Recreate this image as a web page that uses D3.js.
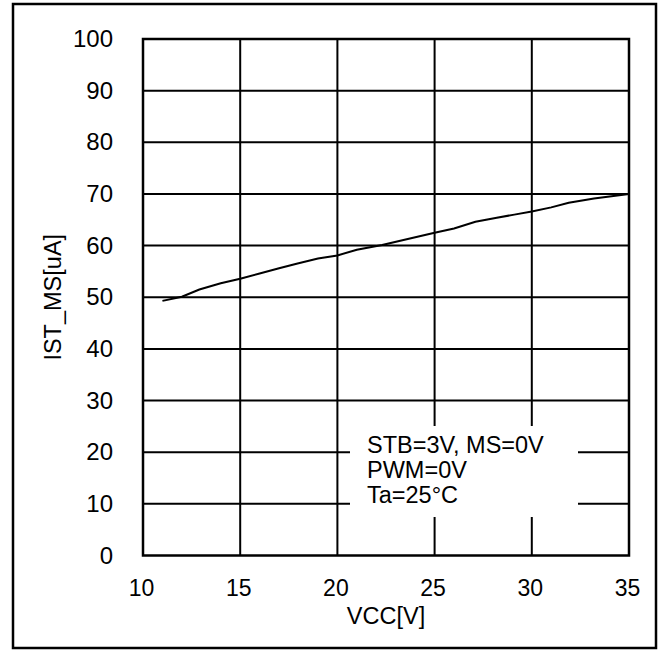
<!DOCTYPE html>
<html>
<head>
<meta charset="utf-8">
<script src="https://cdn.jsdelivr.net/npm/d3@7"></script>
<style>
  body { margin: 0; background: #fff; }
  text { font-family: "Liberation Sans", Arial, sans-serif; fill: #000; }
</style>
</head>
<body>
<div id="chart"></div>
<script>
// Datos
const VCC = [11.0, 12.0, 12.9, 14.0, 15.0, 16.0, 17.0, 17.9, 19.0, 20.0, 21.0, 22.3, 23.4, 25.0, 26.0, 27.1, 28.2, 29.1, 30.0, 31.0, 31.9, 33.2, 35.0];
const IST = [49.3, 50.1, 51.5, 52.7, 53.6, 54.6, 55.6, 56.5, 57.5, 58.1, 59.2, 60.1, 61.1, 62.5, 63.3, 64.6, 65.4, 66.0, 66.6, 67.4, 68.3, 69.1, 70.0];
const X_TICKS = [10, 15, 20, 25, 30, 35];
const Y_TICKS = [0, 10, 20, 30, 40, 50, 60, 70, 80, 90, 100];
const NOTE_LINES = ["STB=3V, MS=0V", "PWM=0V", "Ta=25°C"];

const WIDTH = 665;
const HEIGHT = 650;
const svg = d3.select("#chart").append("svg")
    .attr("width", WIDTH).attr("height", HEIGHT);

// Marco exterior
svg.append("rect")
    .attr("x", 13).attr("y", 4)
    .attr("width", 643).attr("height", 644)
    .attr("fill", "none").attr("stroke", "#000").attr("stroke-width", 2.5);

const PLOT_L = 143, PLOT_R = 629, PLOT_T = 39, PLOT_B = 555.5;
const x = d3.scaleLinear().domain([10, 35]).range([PLOT_L, PLOT_R]);
const y = d3.scaleLinear().domain([0, 100]).range([PLOT_B, PLOT_T]);

// Rejilla
const grid = svg.append("g");
grid.selectAll(".gx").data(X_TICKS.slice(1, -1)).enter().append("line")
    .attr("x1", d => x(d)).attr("x2", d => x(d))
    .attr("y1", PLOT_T).attr("y2", PLOT_B)
    .attr("stroke", "#000").attr("stroke-width", 2);
grid.selectAll(".gy").data(Y_TICKS.slice(1, -1)).enter().append("line")
    .attr("x1", PLOT_L).attr("x2", PLOT_R)
    .attr("y1", d => y(d)).attr("y2", d => y(d))
    .attr("stroke", "#000").attr("stroke-width", 2);

// Caja blanca de la nota
svg.append("rect")
    .attr("x", 350).attr("y", 426)
    .attr("width", 228).attr("height", 91)
    .attr("fill", "#fff");

// Curva
const line = d3.line().x(d => x(d[0])).y(d => y(d[1]));
svg.append("path")
    .datum(VCC.map((v, i) => [v, IST[i]]))
    .attr("d", line)
    .attr("fill", "none").attr("stroke", "#000").attr("stroke-width", 2);

// Borde del área de trazado
svg.append("rect")
    .attr("x", PLOT_L).attr("y", PLOT_T)
    .attr("width", PLOT_R - PLOT_L).attr("height", PLOT_B - PLOT_T)
    .attr("fill", "none").attr("stroke", "#000").attr("stroke-width", 2.5);

// Ejes (solo etiquetas)
const xAxis = svg.append("g")
    .attr("transform", `translate(-2,${PLOT_B + 32})`)
    .call(d3.axisBottom(x).tickValues(X_TICKS).tickSize(0).tickPadding(0));
xAxis.select(".domain").remove();
xAxis.selectAll("text").attr("font-size", 23).attr("dy", "0.36em")
    .style("font-family", "Liberation Sans, Arial, sans-serif");

const yAxis = svg.append("g")
    .attr("transform", `translate(${PLOT_L - 30},0)`)
    .call(d3.axisLeft(y).tickValues(Y_TICKS).tickSize(0).tickPadding(0));
yAxis.select(".domain").remove();
yAxis.selectAll("text").attr("font-size", 24)
    .style("font-family", "Liberation Sans, Arial, sans-serif");

// Títulos de los ejes
svg.append("text")
    .attr("x", x(22.5)).attr("y", 616)
    .attr("dy", "0.35em")
    .attr("text-anchor", "middle")
    .attr("font-size", 23.5)
    .text("VCC[V]");

svg.append("text")
    .attr("transform", `translate(53,${y(50)}) rotate(-90)`)
    .attr("dy", "0.35em")
    .attr("text-anchor", "middle")
    .attr("font-size", 23.5)
    .text("IST_MS[uA]");

// Nota
svg.selectAll(".note").data(NOTE_LINES).enter().append("text")
    .attr("x", 367)
    .attr("y", (d, i) => 453 + i * 25)
    .attr("font-size", 23.5)
    .text(d => d);
</script>
</body>
</html>
